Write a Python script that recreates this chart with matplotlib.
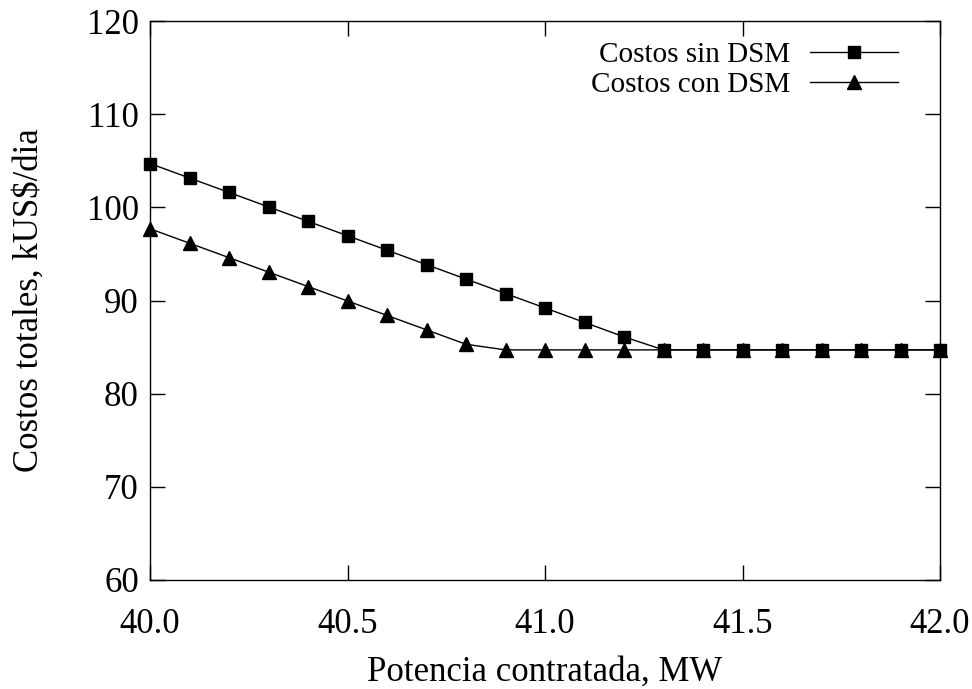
import matplotlib
matplotlib.use("Agg")
import matplotlib.pyplot as plt
from matplotlib.lines import Line2D

potencia = [40.0, 40.1, 40.2, 40.3, 40.4, 40.5, 40.6, 40.7, 40.8, 40.9, 41.0,
            41.1, 41.2, 41.3, 41.4, 41.5, 41.6, 41.7, 41.8, 41.9, 42.0]
costos_sin_dsm = [104.7, 103.15, 101.6, 100.05, 98.5, 96.95, 95.4, 93.85, 92.3, 90.75,
                  89.2, 87.65, 86.1, 84.7, 84.7, 84.7, 84.7, 84.7, 84.7, 84.7, 84.7]
costos_con_dsm = [97.7, 96.15, 94.6, 93.05, 91.5, 89.95, 88.4, 86.85, 85.3, 84.7,
                  84.7, 84.7, 84.7, 84.7, 84.7, 84.7, 84.7, 84.7, 84.7, 84.7, 84.7]
labels = ["Costos sin DSM", "Costos con DSM"]
xticks = [40.0, 40.5, 41.0, 41.5, 42.0]
yticks = [60, 70, 80, 90, 100, 110, 120]

plt.rcParams['font.family'] = ['Liberation Serif', 'DejaVu Serif']
fs = 25
fs_leg = 21

W, H = 972, 689
L, R, T, B = 150, 940, 21, 580

fig = plt.figure(figsize=(W / 100, H / 100), dpi=100)
ax = fig.add_axes([L / W, 1 - B / H, (R - L) / W, (B - T) / H])

def ax_x(px):
    return (px - L) / (R - L)

def ax_y(py):
    return (B - py) / (B - T)

ax.plot(potencia, costos_sin_dsm, color='black', lw=1.0, marker='s', ms=8.5, clip_on=False, zorder=3)
ax.plot(potencia, costos_con_dsm, color='black', lw=1.0, marker='^', ms=10, clip_on=False, zorder=3)

ax.set_xlim(40.0, 42.0)
ax.set_ylim(60, 120)
ax.set_xticks(xticks)
ax.set_xticklabels([f"{v:.1f}" for v in xticks])
ax.set_yticks(yticks)
ax.tick_params(direction='in', top=True, right=True, length=11, width=1.0, labelsize=fs)
ax.tick_params(axis='x', pad=20)
ax.tick_params(axis='y', pad=8)
for s in ax.spines.values():
    s.set_linewidth(1.0)

ax.set_xlabel("Potencia contratada, MW", fontsize=fs)
ax.set_ylabel("Costos totales, kUS$/dia", fontsize=fs)
ax.xaxis.set_label_coords(0.5, ax_y(672))
ax.yaxis.set_label_coords(ax_x(29), 0.5)
ax.xaxis.label.set_va('center')
ax.yaxis.label.set_va('center')

# legend (gnuplot style: text right-aligned, sample to the right)
markers = ['s', '^']
msz = [8, 9.5]
line_y = [52, 82]
for lab, m, ms, ly in zip(labels, markers, msz, line_y):
    ax.text(ax_x(790), ax_y(ly + 10), lab, transform=ax.transAxes, ha='right', va='baseline',
            fontsize=fs_leg)
    ax.add_line(Line2D([ax_x(810), ax_x(898)], [ax_y(ly), ax_y(ly)], transform=ax.transAxes,
                       color='black', lw=1.0))
    ax.add_line(Line2D([ax_x(854)], [ax_y(ly)], transform=ax.transAxes, color='black',
                       marker=m, ms=ms, lw=0))

fig.savefig("out.png", dpi=100)
